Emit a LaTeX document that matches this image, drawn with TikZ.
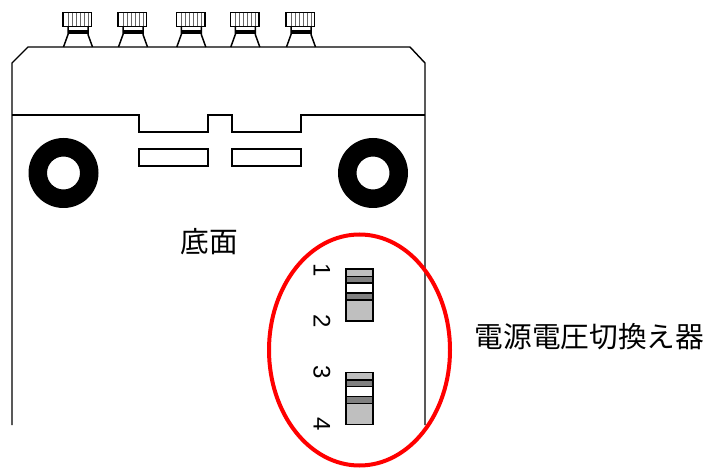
\documentclass[tikz,border=0pt]{standalone}
\usepackage{fontspec}
\setmainfont{Liberation Sans}
\newfontfamily\jpfont{Noto Sans CJK JP}
\tikzstyle{outline} = [draw, line width=1.4pt, line join=miter]
\tikzstyle{slot} = [draw, line width=1.3pt, fill=white]
\tikzstyle{ringblack} = [fill=black, even odd rule]
\tikzstyle{lightband} = [draw, line width=1.7pt, fill=black!25]
\tikzstyle{darkband} = [draw, line width=1.7pt, fill=black!50]
\tikzstyle{whiteband} = [draw, line width=1.7pt, fill=white]
\tikzstyle{digit} = [inner sep=0pt, rotate=-90, font=\fontsize{24}{24}\selectfont]
\tikzstyle{caption} = [inner sep=0pt, font=\jpfont\fontsize{28.7}{30}\selectfont]

\begin{document}
\begin{tikzpicture}[x=1pt,y=-1pt]
  \useasboundingbox (0,0) rectangle (705,468);

  \foreach \cx in {63,118,176.3,230.3,286} {
    \begin{scope}[shift={(\cx,0)}]
      \foreach \gx in {5,9,13,17,21,25}
        \draw[line width=0.9pt, black!60] (\gx,12.5) -- (\gx,26);
      \draw[line width=1.5pt] (0,12.5) rectangle (28.5,26.5);
      \fill (5,30.5) rectangle (24.5,34.5);
      \draw[line width=1.5pt] (5,27) -- (5,34.5) -- (0.5,47)
                              (25,27) -- (25,34.5) -- (29.5,47);
    \end{scope}
  }

  \draw[outline] (12,425) -- (12,63) -- (28,47) -- (410,47) -- (425,63) -- (425,425);
  \draw[outline] (12,115) -- (139,115) -- (139,132) -- (208,132) -- (208,115)
                 -- (232,115) -- (232,132) -- (301,132) -- (301,115) -- (425,115);

  \draw[slot] (139,149) rectangle (208,166);
  \draw[slot] (232,149) rectangle (301,166);

  \fill[ringblack] (63.5,173) circle (35) (63.5,173) circle (16.5);
  \fill[ringblack] (373,173) circle (35) (373,173) circle (16.5);

  \foreach \sy in {269,372.5} {
    \begin{scope}[shift={(0,\sy)}]
      \draw[lightband] (346,0) rectangle (373,52);
      \draw[darkband] (346,7.5) rectangle (373,14);
      \draw[whiteband] (346,14) rectangle (373,24);
      \draw[darkband] (346,24) rectangle (373,31);
    \end{scope}
  }

  \node[digit] (one) at (322,270) {1};
  \node[digit] (two) at (322,321) {2};
  \node[digit] (three) at (322,372) {3};
  \node[digit] (four) at (322,424) {4};

  \node[caption] (bottom) at (209.5,242) {底面};
  \node[caption, anchor=west] (selector) at (474.5,337) {電源電圧切換え器};

  \draw[red, line width=4pt] (359.5,350) ellipse (90.5 and 115.5);
\end{tikzpicture}
\end{document}
